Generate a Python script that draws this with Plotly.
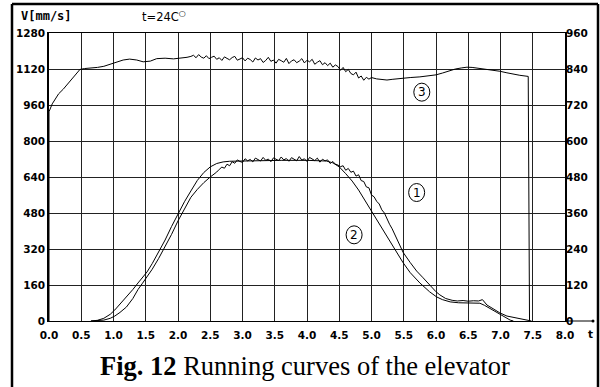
import plotly.graph_objects as go

# ---------------- data ----------------
x_ticks = [0.0, 0.5, 1.0, 1.5, 2.0, 2.5, 3.0, 3.5, 4.0, 4.5, 5.0, 5.5, 6.0, 6.5, 7.0, 7.5, 8.0]
x_tick_labels = ["0.0", "0.5", "1.0", "1.5", "2.0", "2.5", "3.0", "3.5", "4.0", "4.5",
                 "5.0", "5.5", "6.0", "6.5", "7.0", "7.5", "8.0"]
y_left_ticks = [0, 160, 320, 480, 640, 800, 960, 1120, 1280]
y_left_labels = ["0", "160", "320", "480", "640", "800", "960", "1120", "1280"]
y_right_ticks = [0, 120, 240, 360, 480, 600, 720, 840, 960]
y_right_labels = ["0", "120", "240", "360", "480", "600", "720", "840", "960"]

# curve 3 (upper trace)
t3 = [0.0, 0.0, 0.05, 0.09, 0.15, 0.22, 0.30, 0.36, 0.42, 0.48, 0.55, 0.65, 0.75, 0.85, 0.95,
      1.05, 1.15, 1.25, 1.36, 1.46, 1.57, 1.67, 1.80, 1.93, 2.06, 2.14,
      2.20, 2.24, 2.28, 2.32, 2.36, 2.40, 2.44, 2.48, 2.52, 2.56, 2.60, 2.64, 2.68, 2.72, 2.76,
      2.80, 2.84, 2.88, 2.92, 2.96, 3.00, 3.04, 3.08, 3.12, 3.16, 3.20, 3.24, 3.28, 3.32, 3.36,
      3.40, 3.44, 3.48, 3.52, 3.56, 3.60, 3.64, 3.68, 3.72, 3.76, 3.80, 3.84, 3.88, 3.92, 3.96,
      4.00, 4.04, 4.08, 4.12, 4.16, 4.20, 4.24, 4.28, 4.32, 4.36, 4.40, 4.44, 4.48, 4.52, 4.56,
      4.60, 4.64, 4.68, 4.72, 4.76, 4.80, 4.84, 4.88, 4.92, 4.96, 5.00,
      5.08, 5.16, 5.24, 5.32, 5.44, 5.60, 5.75, 5.86, 6.00, 6.10, 6.20, 6.30, 6.40, 6.48, 6.56,
      6.64, 6.74, 6.84, 6.99, 7.10, 7.20, 7.30, 7.43, 7.45]
v3 = [0, 930, 965, 985, 1010, 1030, 1058, 1075, 1100, 1118, 1122, 1124, 1127, 1132, 1142,
      1152, 1160, 1164, 1160, 1152, 1155, 1166, 1168, 1165, 1168, 1172,
      1176, 1181, 1170, 1184, 1173, 1168, 1179, 1166, 1172, 1177, 1163, 1170, 1158, 1174, 1167,
      1161, 1171, 1176, 1159, 1165, 1170, 1156, 1168, 1162, 1151, 1169, 1160, 1166, 1149, 1158,
      1172, 1154, 1160, 1146, 1163, 1157, 1150, 1167, 1144, 1156, 1161, 1148, 1155, 1166, 1147,
      1159, 1152, 1163, 1141, 1150, 1157, 1139, 1148, 1135, 1146, 1128, 1138, 1131, 1114, 1127,
      1108, 1118, 1100, 1094, 1106, 1080, 1089, 1070, 1083, 1075, 1082,
      1076, 1072, 1071, 1074, 1078, 1082, 1085, 1088, 1094, 1102, 1112, 1120, 1125, 1128, 1127,
      1124, 1120, 1116, 1110, 1103, 1097, 1092, 1087, 0]

# curve 1 (measured, noisy, lagging)
t1 = [0.65, 0.75, 0.85, 0.95, 1.02, 1.10, 1.20, 1.30, 1.38, 1.45, 1.52, 1.60, 1.70, 1.80,
      1.90, 2.00, 2.10, 2.20, 2.30, 2.40, 2.50, 2.56,
      2.60, 2.64, 2.68, 2.72, 2.76, 2.80, 2.84, 2.88, 2.92, 2.96, 3.00, 3.04, 3.08, 3.12, 3.16,
      3.20, 3.24, 3.28, 3.32, 3.36, 3.40, 3.44, 3.48, 3.52, 3.56, 3.60, 3.64, 3.68, 3.72, 3.76,
      3.80, 3.84, 3.88, 3.92, 3.96, 4.00, 4.04, 4.08, 4.12, 4.16, 4.20, 4.24, 4.28, 4.32, 4.36,
      4.40, 4.44, 4.48, 4.52, 4.56, 4.60, 4.64, 4.68, 4.72, 4.76, 4.80, 4.84, 4.88, 4.92, 4.96,
      5.00, 5.04, 5.08, 5.12, 5.16, 5.20, 5.24, 5.28, 5.32, 5.36,
      5.44, 5.49, 5.60, 5.70, 5.80, 5.90, 6.00, 6.06, 6.15, 6.25, 6.33, 6.42, 6.50, 6.58, 6.66,
      6.72, 6.79, 6.90, 6.99, 7.10, 7.25, 7.35, 7.46, 7.48]
v1 = [0, 1, 4, 12, 22, 38, 62, 100, 140, 168, 196, 230, 278, 330,
      385, 445, 500, 550, 585, 615, 640, 652,
      662, 674, 684, 679, 697, 690, 708, 701, 716, 709, 705, 721, 712, 718, 707,
      724, 716, 711, 727, 714, 720, 708, 725, 719, 713, 729, 716, 722, 710, 726,
      717, 712, 731, 715, 721, 709, 727, 718, 713, 724, 706, 719, 712, 716, 700,
      709, 697, 693, 686, 690, 670, 678, 661, 666, 644, 650, 624, 620, 596, 592,
      560, 552, 532, 520, 494, 480, 452, 430, 410, 385,
      335, 305, 260, 222, 192, 160, 130, 116, 100, 92, 89, 91, 88, 90, 89,
      95, 71, 52, 36, 22, 13, 8, 3, 0]

# curve 2 (reference, smooth, leading)
t2 = [0.65, 0.75, 0.85, 0.95, 1.02, 1.10, 1.20, 1.30, 1.38, 1.45, 1.52, 1.60, 1.70, 1.80,
      1.90, 2.00, 2.10, 2.20, 2.30, 2.40, 2.50, 2.60, 2.70, 2.80, 3.20, 3.60, 4.00, 4.30,
      4.40, 4.50, 4.60, 4.70, 4.80, 4.90, 5.00, 5.10, 5.20, 5.30, 5.36, 5.49, 5.60, 5.75,
      5.90, 6.01, 6.10, 6.22, 6.35, 6.48, 6.60, 6.68, 6.75, 6.82, 6.88, 6.95, 7.05, 7.15, 7.20]
v2 = [0, 3, 12, 30, 49, 75, 105, 140, 169, 195, 218, 255, 305, 360,
      420, 478, 530, 578, 625, 660, 685, 700, 707, 710, 713, 714, 714, 711,
      703, 685, 655, 622, 582, 535, 485, 440, 395, 350, 320, 259, 215, 169,
      130, 107, 95, 85, 81, 80, 80, 79, 70, 58, 49, 35, 18, 4, 0]

curve_labels = ["1", "2", "3"]
label_t = [5.70, 4.73, 5.78]
label_v = [571, 383, 1017]

# ---------------- layout constants ----------------
W, H = 600, 387
ML, MR, MT, MB = 49, 35, 33, 66
PW, PH = W - ML - MR, H - MT - MB


def px(xpix):
    return (xpix - ML) / PW


def py(ypix):
    return (H - MB - ypix) / PH


tick_font = dict(family="DejaVu Sans", size=10.5, color="black", weight="bold")

fig = go.Figure()
for t, v in [(t3, v3), (t1, v1), (t2, v2)]:
    fig.add_trace(go.Scatter(x=t, y=v, mode="lines",
                             line=dict(color="black", width=1),
                             showlegend=False, hoverinfo="skip"))
# invisible trace to activate right axis
fig.add_trace(go.Scatter(x=[0], y=[0], yaxis="y2", mode="markers",
                         marker=dict(opacity=0), showlegend=False, hoverinfo="skip"))

fig.update_layout(
    width=W, height=H, autosize=False,
    margin=dict(l=ML, r=MR, t=MT, b=MB, autoexpand=False),
    paper_bgcolor="white", plot_bgcolor="white",
    xaxis=dict(range=[0, 8], tickvals=x_ticks, ticktext=x_tick_labels, automargin=False,
               showgrid=True, gridcolor="#222", gridwidth=1, zeroline=False,
               showline=True, linecolor="black", linewidth=1, mirror=True,
               ticks="", ticklabelstandoff=4, tickfont=tick_font, fixedrange=True),
    yaxis=dict(range=[0, 1280], tickvals=y_left_ticks, ticktext=y_left_labels,
               automargin=False,
               showgrid=True, gridcolor="#222", gridwidth=1, zeroline=False,
               showline=True, linecolor="black", linewidth=1.5, mirror=True,
               ticks="", tickfont=tick_font, fixedrange=True),
    yaxis2=dict(range=[0, 960], tickvals=y_right_ticks, ticktext=y_right_labels,
                automargin=False,
                overlaying="y", side="right", showgrid=False, zeroline=False,
                showline=False, ticks="", tickfont=tick_font, fixedrange=True),
)

# extended x axis line with end dot
fig.add_shape(type="line", xref="paper", yref="paper", x0=1, x1=px(593), y0=0, y1=0,
              line=dict(color="black", width=1))
fig.add_shape(type="circle", xref="paper", yref="paper",
              x0=px(591.5), x1=px(594.5), y0=py(319.5), y1=py(322.5),
              fillcolor="black", line=dict(color="black", width=0))

# outer frame (left, top, right)
for (x0, y0, x1, y1) in [(12, 4, 12, 390), (12, 4, 598, 4), (598, 4, 598, 390)]:
    fig.add_shape(type="line", xref="paper", yref="paper",
                  x0=px(x0), y0=py(y0), x1=px(x1), y1=py(y1),
                  line=dict(color="black", width=2.5))

# circled curve labels
for lab, tt, vv in zip(curve_labels, label_t, label_v):
    fig.add_shape(type="circle", xref="x", yref="y", xsizemode="pixel", ysizemode="pixel",
                  xanchor=tt, yanchor=vv, x0=-8, x1=8, y0=-9, y1=9,
                  line=dict(color="black", width=1), fillcolor="rgba(0,0,0,0)")
    fig.add_annotation(x=tt, y=vv, xref="x", yref="y", text=lab, showarrow=False,
                       font=dict(family="DejaVu Sans", size=12, color="black"))

# header texts
fig.add_annotation(xref="paper", yref="paper", x=px(19), y=py(16), xanchor="left",
                   yanchor="middle", text="V[mm/s]", showarrow=False,
                   font=dict(family="DejaVu Sans Mono", size=12, color="black", weight="bold"))
fig.add_annotation(xref="paper", yref="paper", x=px(140), y=py(16), xanchor="left",
                   yanchor="middle", text="t=24C<sup>○</sup>", showarrow=False,
                   font=dict(family="DejaVu Sans", size=11.5, color="black"))
fig.add_annotation(xref="paper", yref="paper", x=px(586), y=py(334), xanchor="left",
                   yanchor="middle", text="t", showarrow=False, font=tick_font)

# caption
fig.add_annotation(xref="paper", yref="paper", x=px(305), y=py(366), xanchor="center",
                   yanchor="middle", text="<b>Fig. 12</b> Running curves of the elevator",
                   showarrow=False,
                   font=dict(family="Liberation Serif", size=26.5, color="black"))

fig.write_html("out.html", config={"displayModeBar": False},
               post_script="document.body.style.margin='0px';")
